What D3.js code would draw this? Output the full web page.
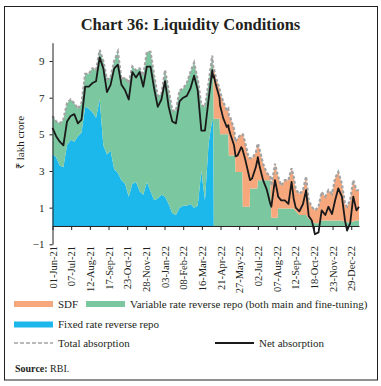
<!DOCTYPE html>
<html>
<head>
<meta charset="utf-8">
<script src="https://cdn.jsdelivr.net/npm/d3@7"></script>
<style>
  body { margin: 0; background: #fff; }
  svg { display: block; font-family: "Liberation Serif", "Times New Roman", serif; }
</style>
</head>
<body>
<svg id="chart" width="381" height="386"></svg>
<script>
// dates of the readings (weekly, plus extra points where the series step)
const dates = [
  '2021-06-01','2021-06-08','2021-06-15','2021-06-22','2021-06-29','2021-07-06','2021-07-13','2021-07-20','2021-07-27',
  '2021-08-03','2021-08-10','2021-08-17','2021-08-24','2021-08-31','2021-09-07','2021-09-14','2021-09-21','2021-09-28',
  '2021-10-05','2021-10-12','2021-10-19','2021-10-26','2021-11-02','2021-11-09','2021-11-16','2021-11-23','2021-11-30',
  '2021-12-07','2021-12-14','2021-12-21','2021-12-28','2022-01-04','2022-01-11','2022-01-18','2022-01-25','2022-02-01',
  '2022-02-08','2022-02-15','2022-02-22','2022-03-01','2022-03-08','2022-03-15','2022-03-22','2022-03-29','2022-04-05',
  '2022-04-07',
  '2022-04-08','2022-04-12','2022-04-19','2022-04-20','2022-04-26','2022-05-03','2022-05-06','2022-05-07','2022-05-10',
  '2022-05-17','2022-05-19','2022-05-20','2022-05-24','2022-05-31','2022-06-02','2022-06-03','2022-06-07','2022-06-14',
  '2022-06-16','2022-06-17','2022-06-21','2022-06-28','2022-07-01','2022-07-02','2022-07-05','2022-07-12','2022-07-19',
  '2022-07-26','2022-07-28','2022-08-02','2022-08-04','2022-08-09','2022-08-10','2022-08-16','2022-08-23','2022-08-30',
  '2022-09-05','2022-09-09','2022-09-13','2022-09-20','2022-09-27','2022-10-03','2022-10-08','2022-10-14','2022-10-20',
  '2022-10-27','2022-11-02','2022-11-09','2022-11-15','2022-11-22','2022-11-28','2022-12-04','2022-12-11','2022-12-17',
  '2022-12-21','2022-12-27','2023-01-02','2023-01-08','2023-01-13'
];

// ₹ lakh crore
const fixedRate = [
  3.95,3.75,3.3,3.2,4.4,4.7,4.6,4.9,5.1,6.5,6.4,6.2,5.9,6.9,4.4,3.9,4.1,3.1,2.9,2.5,2.3,1.6,2.3,
  2.4,1.9,1.7,2.4,1.9,1.4,1.5,1.7,1.6,1.2,0.7,0.6,1.0,1.1,1.1,1.2,1.0,1.1,3.0,1.4,4.5,5.8,5.6,
  0,0,0,0,0,0,0,0,0,0,0,0,0,0,0,0,0,0,0,0,0,0,0,0,0,0,0,0,0,0,
  0,0,0,0,0,0,0,0,0,0,0,0,0,0,0,0,0,0,0,0,0,0,0,0,0,0,0,0,0
];
const variableRate = [
  2.05,1.95,2.3,2.6,2.3,2.2,2.1,1.5,1.6,1.8,1.9,2.4,2.6,2.7,4.6,4.1,4.0,5.9,6.6,5.5,5.8,6.2,6.4,
  6.1,6.7,6.5,7.1,7.6,6.8,5.6,5.5,6.9,6.2,5.6,5.7,6.4,6.4,6.7,7.2,7.9,6.9,3.6,5.1,3.3,3.5,3.0,
  5.85,5.85,5.85,5.0,5.0,5.0,5.0,3.85,3.85,3.85,3.85,2.95,2.95,2.95,2.95,1.05,1.05,1.05,1.05,
  2.05,2.05,2.05,2.05,2.5,2.5,2.5,2.5,2.5,0.45,0.45,0.45,0.45,0.95,0.95,0.95,0.95,0.95,0.95,
  0.8,0.6,0.6,0.6,0.4,0.25,0.15,0.15,0.3,0.3,0.3,0.3,0.3,0.3,0.3,0.2,0.2,0.2,0.25,0.3,0.3
];
const sdf = [
  0,0,0,0,0,0,0,0,0,0,0,0,0,0,0,0,0,0,0,0,0,0,0,0,0,0,0,0,0,0,0,0,0,0,0,0,0,0,0,0,0,0,0,0,0,0,
  2.75,2.25,1.65,2.3,1.8,1.3,1.4,2.15,2.05,1.45,0.95,1.65,1.85,2.05,2.05,3.95,3.55,2.7,2.65,
  1.65,1.65,1.95,2.35,2.0,1.7,0.9,0.4,0.2,1.75,2.55,2.95,2.35,1.75,1.25,1.55,1.55,2.2,1.75,
  1.2,1.15,1.35,2.1,1.0,0.8,0.7,0.9,1.55,1.3,1.65,1.45,2.3,2.65,2.0,1.0,0.85,1.2,2.25,1.65,1.65
];
const netAbsorption = [
  5.35,4.9,4.6,4.4,5.7,6.0,6.1,5.6,5.8,7.6,7.6,7.8,7.9,9.2,8.6,7.3,7.7,8.6,8.8,7.7,7.4,6.9,8.4,
  8.1,8.4,7.6,8.7,8.7,7.5,6.5,6.9,7.9,6.5,5.7,5.6,6.8,7.0,7.1,7.5,8.2,7.4,5.2,5.2,6.9,8.5,8.1,
  8.2,7.7,7.0,6.6,5.9,5.4,5.5,5.3,5.0,4.4,4.0,3.8,3.85,4.3,4.2,4.1,3.7,2.85,2.6,
  2.5,2.6,3.2,3.6,3.75,3.3,2.5,2.0,1.2,1.05,2.1,2.5,1.8,1.6,1.4,1.4,1.2,2.4,1.5,
  1.0,0.8,1.2,1.95,0.55,0.3,-0.45,-0.35,0.85,0.6,1.05,0.65,1.4,2.05,1.6,0.3,-0.25,0.15,1.6,0.85,1.05
];

const tickLabels = ['01-Jun-21','07-Jul-21','12-Aug-21','17-Sep-21','23-Oct-21','28-Nov-21','03-Jan-22','08-Feb-22',
  '16-Mar-22','21-Apr-22','27-May-22','02-Jul-22','07-Aug-22','12-Sep-22','18-Oct-22','23-Nov-22','29-Dec-22'];
const yTicks = [-1, 1, 3, 5, 7, 9];

const COLORS = {fixed: '#1cb8ec', variable: '#7bc8a0', sdf: '#f7a77c', total: '#a3a3a3', net: '#1a1a1a'};

const svg = d3.select('#chart');

const parseIso = d3.timeParse('%Y-%m-%d');
const parseTick = d3.timeParse('%d-%b-%y');

const rows = dates.map((d, i) => ({
  date: parseIso(d),
  fixed: fixedRate[i],
  variable: variableRate[i],
  sdf: sdf[i],
  net: netAbsorption[i]
}));

// frame
svg.append('rect')
  .attr('x', 4.5).attr('y', 6.5)
  .attr('width', 373).attr('height', 373.5)
  .attr('fill', 'none').attr('stroke', '#231f20').attr('stroke-width', 1);

// title
svg.append('text')
  .attr('x', 190.5).attr('y', 30)
  .attr('text-anchor', 'middle')
  .attr('font-weight', 'bold').attr('font-size', 16.5)
  .attr('fill', '#231f20')
  .text('Chart 36: Liquidity Conditions');

const x = d3.scaleTime()
  .domain([rows[0].date, rows[rows.length - 1].date])
  .range([52.5, 359]);
const y = d3.scaleLinear()
  .domain([-1, 10])
  .range([244.3, 42.7]);

const stacked = d3.stack().keys(['fixed', 'variable', 'sdf'])(rows);

const area = d3.area()
  .x(d => x(d.data.date))
  .y0(d => y(d[0]))
  .y1(d => y(d[1]));

svg.append('g').attr('class', 'areas')
  .selectAll('path')
  .data(stacked)
  .join('path')
  .attr('fill', d => COLORS[d.key])
  .attr('d', area);

// total absorption (dashed)
const totalLine = d3.line()
  .x(d => x(d.date))
  .y(d => y(d.fixed + d.variable + d.sdf));
svg.append('path')
  .datum(rows)
  .attr('fill', 'none')
  .attr('stroke', COLORS.total)
  .attr('stroke-width', 2.2)
  .attr('stroke-dasharray', '3,2')
  .attr('d', totalLine);

// net absorption
const netLine = d3.line()
  .x(d => x(d.date))
  .y(d => y(d.net));
svg.append('path')
  .datum(rows)
  .attr('fill', 'none')
  .attr('stroke', COLORS.net)
  .attr('stroke-width', 1.8)
  .attr('stroke-linejoin', 'round')
  .attr('d', netLine);

// axes
const yAxis = d3.axisLeft(y).tickValues(yTicks).tickSize(3).tickSizeOuter(0).tickPadding(5);
const gy = svg.append('g').attr('transform', 'translate(52.5,0)').call(yAxis);
gy.selectAll('text').attr('font-size', 11).attr('font-family', '"Liberation Serif", serif').attr('fill', '#231f20');
gy.selectAll('path, line').attr('stroke', '#231f20');

const tickDates = tickLabels.map(parseTick);
const xAxis = d3.axisBottom(x)
  .tickValues(tickDates)
  .tickFormat((d, i) => tickLabels[i])
  .tickSize(4).tickSizeOuter(0);
const gx = svg.append('g').attr('transform', `translate(0,${y(0)})`).call(xAxis);
gx.selectAll('path, line').attr('stroke', '#231f20');
gx.selectAll('text')
  .attr('font-size', 10.5)
  .attr('font-family', '"Liberation Serif", serif')
  .attr('fill', '#231f20')
  .attr('transform', 'rotate(-90)')
  .attr('x', -20).attr('y', 0).attr('dy', '0.35em')
  .style('text-anchor', 'end');

// y title
svg.append('text')
  .attr('transform', 'translate(24,142.5) rotate(-90)')
  .attr('text-anchor', 'middle')
  .attr('font-size', 11)
  .attr('fill', '#231f20')
  .text('₹ lakh crore');

// legend
const legend = svg.append('g').attr('font-size', 11).attr('fill', '#231f20');
const swatch = (x0, yc, color, label) => {
  legend.append('rect').attr('x', x0).attr('y', yc - 3).attr('width', 39).attr('height', 6).attr('fill', color);
  legend.append('text').attr('x', x0 + 44).attr('y', yc).attr('dy', '0.35em').text(label);
};
swatch(14, 304, COLORS.sdf, 'SDF');
swatch(86, 304, COLORS.variable, 'Variable rate reverse repo (both main and fine-tuning)');
swatch(14, 324.5, COLORS.fixed, 'Fixed rate reverse repo');

legend.append('line').attr('x1', 14).attr('x2', 53).attr('y1', 343).attr('y2', 343)
  .attr('stroke', COLORS.total).attr('stroke-width', 1.5).attr('stroke-dasharray', '4,2');
legend.append('text').attr('x', 58).attr('y', 343).attr('dy', '0.35em').text('Total absorption');
legend.append('line').attr('x1', 215).attr('x2', 254).attr('y1', 343).attr('y2', 343)
  .attr('stroke', COLORS.net).attr('stroke-width', 1.8);
legend.append('text').attr('x', 259).attr('y', 343).attr('dy', '0.35em').text('Net absorption');

const src = svg.append('text').attr('x', 15).attr('y', 372).attr('font-size', 10).attr('fill', '#231f20');
src.append('tspan').attr('font-weight', 'bold').text('Source:');
src.append('tspan').text(' RBI.');
</script>
</body>
</html>
